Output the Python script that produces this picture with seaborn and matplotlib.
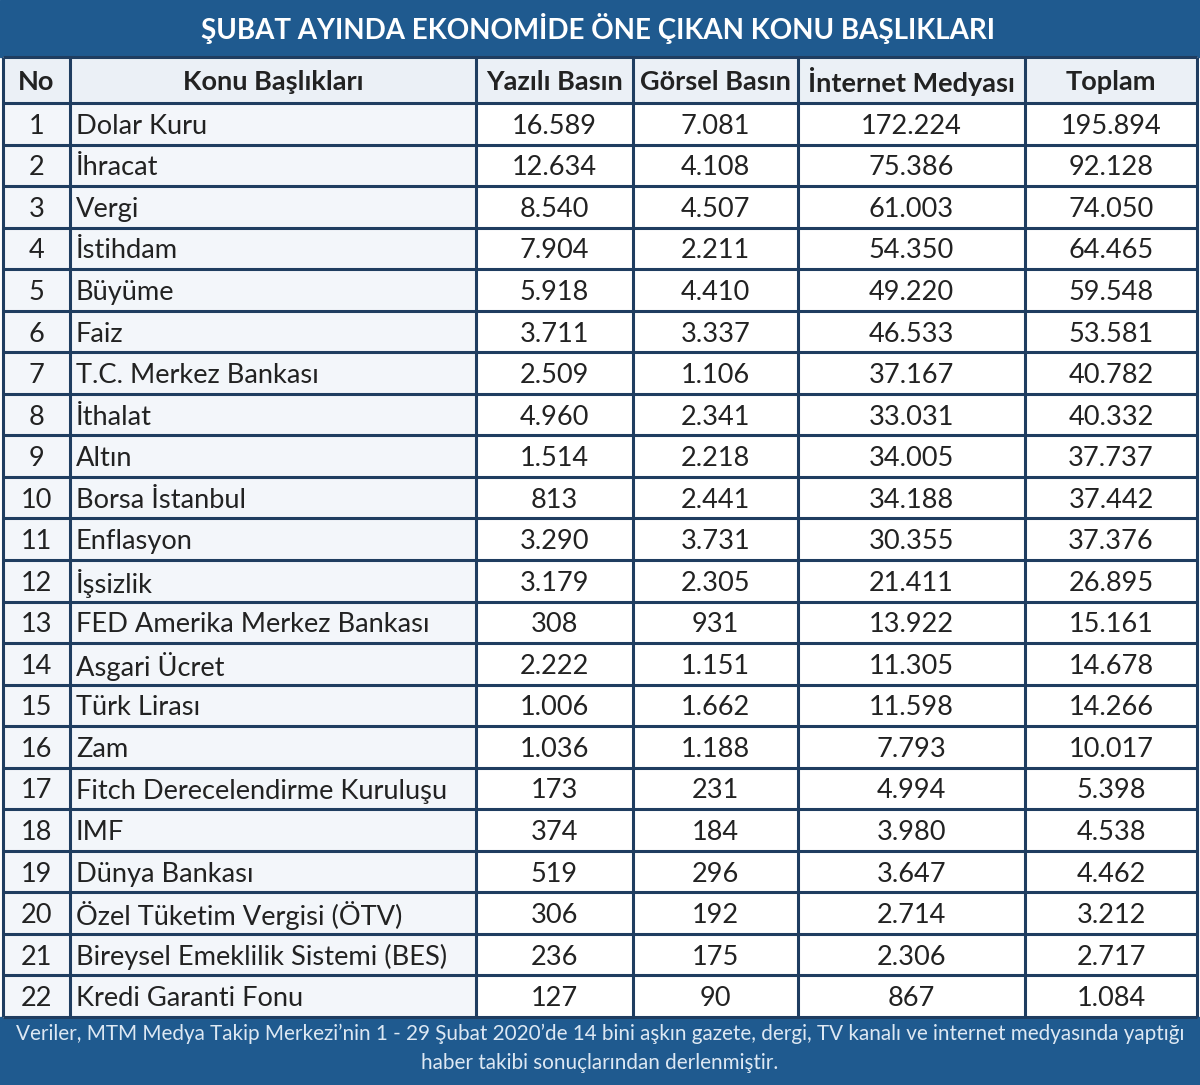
import matplotlib
matplotlib.use("Agg")
import matplotlib.pyplot as plt
import seaborn as sns
from matplotlib.patches import Rectangle

sns.set_theme(style="white")
plt.rcParams['font.family'] = ['Lato', 'DejaVu Sans']

title = "ŞUBAT AYINDA EKONOMİDE ÖNE ÇIKAN KONU BAŞLIKLARI"
headers = ["No", "Konu Başlıkları", "Yazılı Basın", "Görsel Basın", "İnternet Medyası", "Toplam"]
numbers = list(range(1, 23))
topics = ["Dolar Kuru", "İhracat", "Vergi", "İstihdam", "Büyüme", "Faiz",
          "T.C. Merkez Bankası", "İthalat", "Altın", "Borsa İstanbul", "Enflasyon",
          "İşsizlik", "FED Amerika Merkez Bankası", "Asgari Ücret", "Türk Lirası",
          "Zam", "Fitch Derecelendirme Kuruluşu", "IMF", "Dünya Bankası",
          "Özel Tüketim Vergisi (ÖTV)", "Bireysel Emeklilik Sistemi (BES)",
          "Kredi Garanti Fonu"]
yazili = [16589, 12634, 8540, 7904, 5918, 3711, 2509, 4960, 1514, 813, 3290,
          3179, 308, 2222, 1006, 1036, 173, 374, 519, 306, 236, 127]
gorsel = [7081, 4108, 4507, 2211, 4410, 3337, 1106, 2341, 2218, 2441, 3731,
          2305, 931, 1151, 1662, 1188, 231, 184, 296, 192, 175, 90]
internet = [172224, 75386, 61003, 54350, 49220, 46533, 37167, 33031, 34005,
            34188, 30355, 21411, 13922, 11305, 11598, 7793, 4994, 3980, 3647,
            2714, 2306, 867]
toplam = [195894, 92128, 74050, 64465, 59548, 53581, 40782, 40332, 37737,
          37442, 37376, 26895, 15161, 14678, 14266, 10017, 5398, 4538, 4462,
          3212, 2717, 1084]
footer_lines = ["Veriler, MTM Medya Takip Merkezi’nin 1 - 29 Şubat 2020’de 14 bini aşkın gazete, dergi, TV kanalı ve internet medyasında yaptığı",
                "haber takibi sonuçlarından derlenmiştir."]


def fmt(v):
    return f"{v:,}".replace(",", ".")


W, H = 1200, 1085
col_edges = [3, 70, 476, 633, 798, 1025, 1197]
title_bottom = 56
header_top, header_bottom = 57, 103
row_h = (1017 - 103) / 22
footer_top = 1017

navy = "#1f3d60"
blue_bar = "#1f5a8f"
header_bg = "#ebf0f6"
left_bg = "#f3f6fa"
txt = "#222222"

fig = plt.figure(figsize=(W / 100, H / 100), dpi=100)
ax = fig.add_axes([0, 0, 1, 1])
ax.set_xlim(0, W)
ax.set_ylim(H, 0)
ax.axis("off")

# bars
ax.add_patch(Rectangle((0, 0), W, title_bottom + 1, color=blue_bar, zorder=0))
ax.add_patch(Rectangle((0, footer_top), W, H - footer_top, color=blue_bar, zorder=0))
ax.add_patch(Rectangle((col_edges[0], header_top), col_edges[-1] - col_edges[0],
                       header_bottom - header_top, color=header_bg, zorder=0))
ax.add_patch(Rectangle((col_edges[0], header_bottom), col_edges[2] - col_edges[0],
                       footer_top - header_bottom, color=left_bg, zorder=0))

ax.text(W / 2 - 2, 28, title, ha="center", va="center", color="white",
        fontsize=20.0, fontweight="bold")

centers = [(col_edges[i] + col_edges[i + 1]) / 2 for i in range(6)]
hy = (header_top + header_bottom) / 2 + 2
for i, h in enumerate(headers):
    ax.text(centers[i], hy, h, ha="center", va="center", color=txt,
            fontsize=19.5, fontweight="bold")

for r in range(22):
    y = header_bottom + (r + 0.5) * row_h + 2.5
    ax.text(centers[0], y, str(numbers[r]), ha="center", va="center", color=txt, fontsize=19.5)
    ax.text(col_edges[1] + 6, y, topics[r], ha="left", va="center", color=txt, fontsize=19.6)
    for c, arr in zip(range(2, 6), [yazili, gorsel, internet, toplam]):
        ax.text(centers[c], y, fmt(arr[r]), ha="center", va="center", color=txt, fontsize=19.5)

# grid lines
lw = 2.2
ys = [header_top, header_bottom] + [header_bottom + (r + 1) * row_h for r in range(22)]
for y in ys:
    ax.plot([col_edges[0], col_edges[-1]], [y, y], color=navy, lw=lw, zorder=3,
            solid_capstyle="butt")
for x in col_edges:
    ax.plot([x, x], [header_top, footer_top], color=navy, lw=lw, zorder=3,
            solid_capstyle="butt")

ax.text(W / 2, 1034, footer_lines[0], ha="center", va="center", color="#dde8f3", fontsize=14.9)
ax.text(W / 2, 1063, footer_lines[1], ha="center", va="center", color="#dde8f3", fontsize=14.9)

fig.savefig("out.png", dpi=100)
